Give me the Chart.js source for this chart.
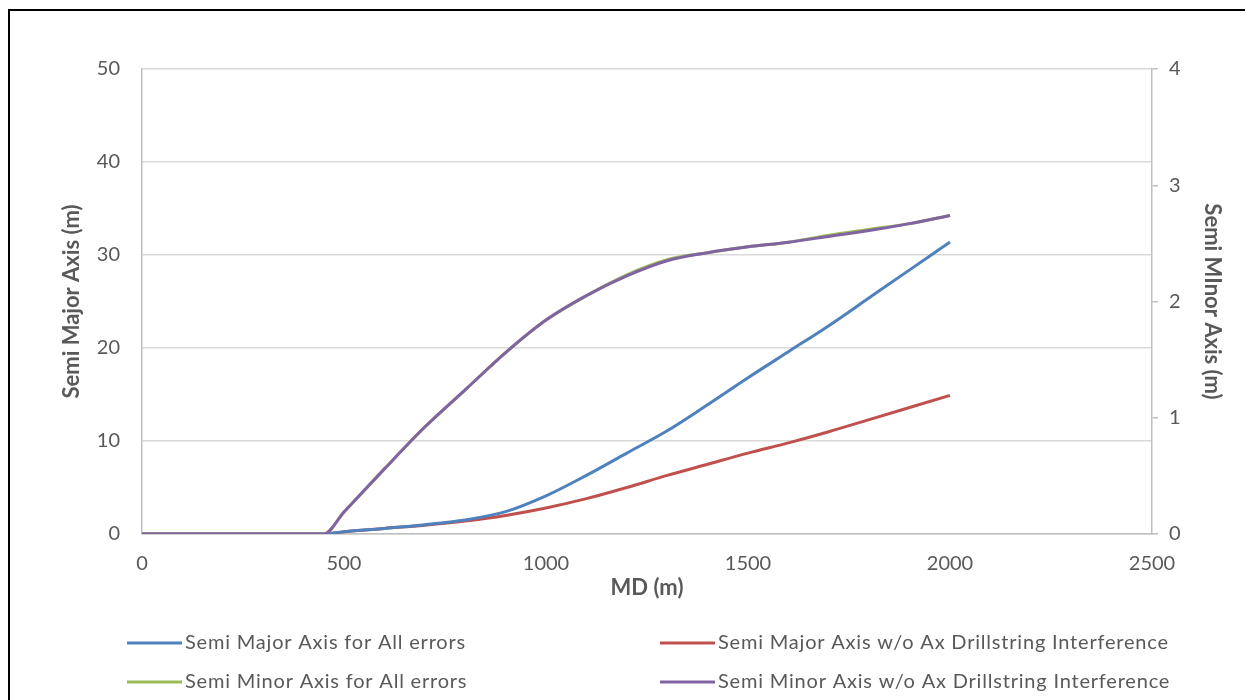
<!DOCTYPE html>
<html>
<head>
<meta charset="utf-8">
<script src="https://cdn.jsdelivr.net/npm/chart.js@4"></script>
<style>
  html, body { margin: 0; padding: 0; background: #fff; overflow: hidden; }
  #wrap { position: relative; width: 1245px; height: 700px; }
  #frame { position: absolute; left: 8px; top: 9px; width: 1300px; height: 800px; border: 2px solid #000; box-sizing: border-box; pointer-events: none; }
</style>
</head>
<body>
<div id="wrap">
  <canvas id="SemiAxisChart" width="1245" height="700"></canvas>
  <div id="frame"></div>
</div>
<script>
// measured depth (m)
const md = [0, 100, 200, 300, 400, 450, 500, 600, 700, 800, 900, 1000, 1100, 1200, 1300, 1400, 1500, 1600, 1700, 1800, 1900, 2000];

// left axis, semi major axis (m)
const majorAll   = [0, 0, 0, 0, 0, 0, 0.25, 0.6, 1.0, 1.5, 2.4, 4.1, 6.3, 8.7, 11.1, 13.9, 16.8, 19.6, 22.4, 25.4, 28.4, 31.4];
const majorNoAx  = [0, 0, 0, 0, 0, 0, 0.25, 0.6, 0.95, 1.4, 2.0, 2.8, 3.8, 5.0, 6.3, 7.5, 8.7, 9.8, 11.0, 12.3, 13.6, 14.9];

// right axis, semi minor axis (m)
const minorAll   = [0, 0, 0, 0, 0, 0, 0.19, 0.56, 0.92, 1.24, 1.56, 1.84, 2.05, 2.23, 2.36, 2.42, 2.47, 2.51, 2.57, 2.62, 2.67, 2.74];
const minorNoAx  = [0, 0, 0, 0, 0, 0, 0.19, 0.56, 0.92, 1.24, 1.56, 1.84, 2.05, 2.22, 2.35, 2.42, 2.47, 2.51, 2.56, 2.61, 2.67, 2.74];

const xTicks = [0, 500, 1000, 1500, 2000, 2500];
const FONT = "Lato";
const GREY = "#595959";

function pts(ys) {
  return md.map((x, i) => ({ x: x, y: ys[i] }));
}

// legend in two columns under the plot, like the spreadsheet one
const gridLegend = {
  id: "gridLegend",
  afterDraw(chart) {
    const ctx = chart.ctx;
    const cols = [127, 660];
    const rows = [643, 682];
    ctx.save();
    ctx.font = "20px " + FONT;
    ctx.letterSpacing = "0.8px";
    ctx.textBaseline = "middle";
    ctx.fillStyle = GREY;
    chart.data.datasets.forEach((ds, i) => {
      const x = cols[i % 2];
      const y = rows[Math.floor(i / 2)];
      ctx.strokeStyle = ds.borderColor;
      ctx.lineWidth = 3;
      ctx.beginPath();
      ctx.moveTo(x, y);
      ctx.lineTo(x + 55, y);
      ctx.stroke();
      ctx.fillText(ds.label, x + 58, y);
    });
    ctx.restore();
  }
};

const CHART = document.getElementById("SemiAxisChart");

let SemiAxisChart = new Chart(CHART, {
  type: "line",
  data: {
    datasets: [
      {
        label: "Semi Major Axis for All errors",
        data: pts(majorAll),
        borderColor: "#4F81BD",
        yAxisID: "y",
        order: 3
      },
      {
        label: "Semi Major Axis w/o Ax Drillstring Interference",
        data: pts(majorNoAx),
        borderColor: "#C0504D",
        yAxisID: "y",
        order: 4
      },
      {
        label: "Semi Minor Axis for All errors",
        data: pts(minorAll),
        borderColor: "#9BBB59",
        yAxisID: "y1",
        order: 2
      },
      {
        label: "Semi Minor Axis w/o Ax Drillstring Interference",
        data: pts(minorNoAx),
        borderColor: "#8064A2",
        yAxisID: "y1",
        order: 1
      }
    ]
  },
  options: {
    responsive: false,
    animation: false,
    layout: { padding: { top: 69, left: 20, right: 20, bottom: 80 } },
    elements: {
      point: { radius: 0 },
      line: { borderWidth: 3, cubicInterpolationMode: "monotone", fill: false }
    },
    plugins: {
      legend: { display: false },
      tooltip: { enabled: false }
    },
    scales: {
      x: {
        type: "linear",
        min: 0,
        max: 2500,
        afterBuildTicks: s => { s.ticks = xTicks.map(v => ({ value: v })); },
        afterFit: s => { s.height = 86; },
        grid: { display: false },
        border: { color: "#bfbfbf", width: 1.5 },
        ticks: { color: GREY, font: { family: FONT, size: 20 }, padding: 10, callback: v => String(v) },
        title: { display: true, text: "MD (m)", color: GREY, font: { family: FONT, size: 22, weight: "bold" }, padding: { top: 0, bottom: 19 } }
      },
      y: {
        position: "left",
        min: 0,
        max: 50,
        afterFit: s => { s.width = 122; },
        grid: { color: "#d9d9d9", lineWidth: 1.5, drawTicks: false },
        border: { color: "#bfbfbf", width: 1.5 },
        ticks: { stepSize: 10, color: GREY, font: { family: FONT, size: 20 }, padding: 22 },
        title: { display: true, text: "Semi Major Axis (m)", color: GREY, font: { family: FONT, size: 22, weight: "bold" }, padding: { top: 39, bottom: 0 } }
      },
      y1: {
        position: "right",
        min: 0,
        max: 4,
        afterFit: s => { s.width = 73; },
        grid: { drawOnChartArea: false, drawTicks: true, tickLength: 6, color: "#bfbfbf", lineWidth: 1.5 },
        border: { color: "#bfbfbf", width: 1.5 },
        ticks: { stepSize: 1, color: GREY, font: { family: FONT, size: 20 }, padding: 11 },
        title: { display: true, text: "Semi MInor Axis (m)", color: GREY, font: { family: FONT, size: 22, weight: "bold" }, padding: { top: 0, bottom: 0 } }
      }
    }
  },
  plugins: [gridLegend]
});
</script>
</body>
</html>
